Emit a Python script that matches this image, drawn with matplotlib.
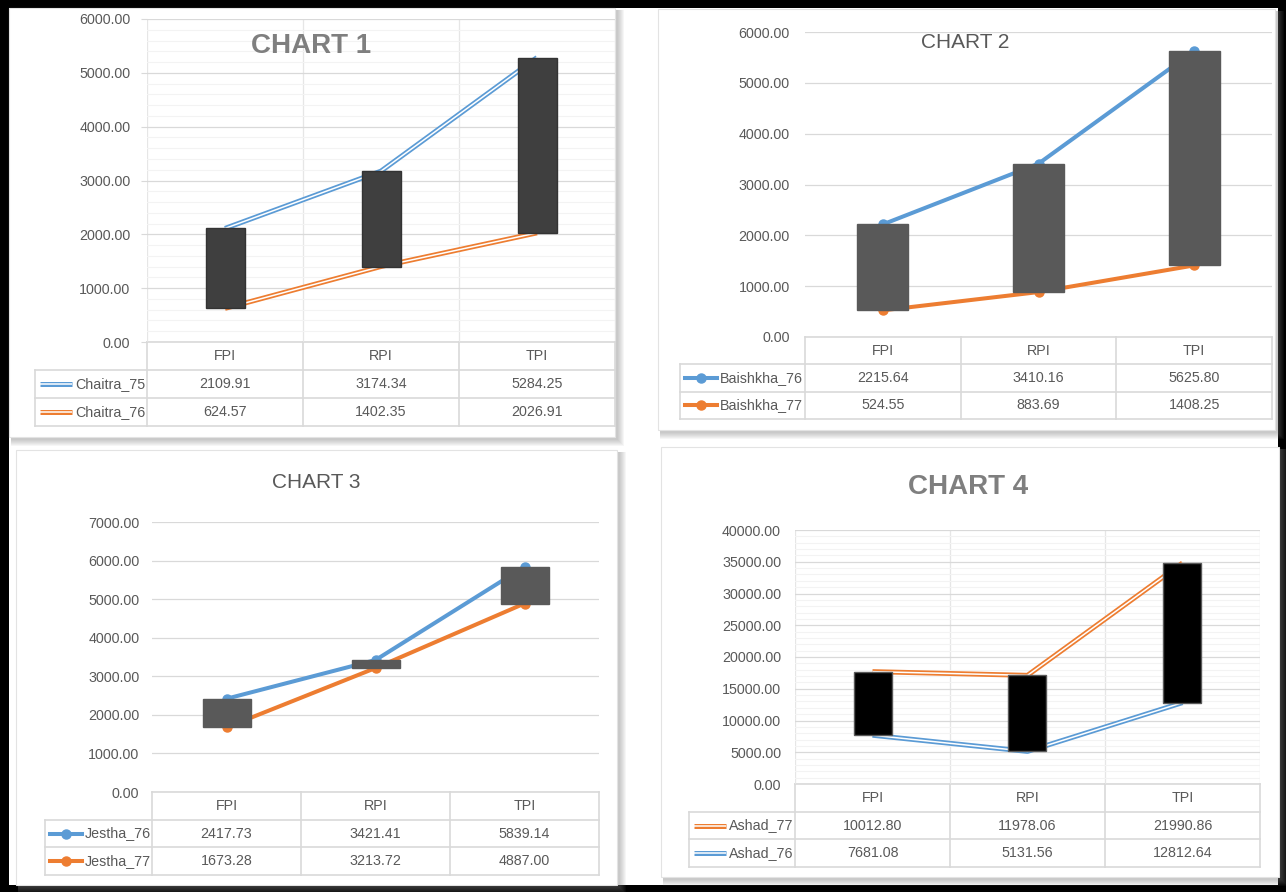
import matplotlib.pyplot as plt
from matplotlib.patches import Rectangle
from matplotlib.ticker import MultipleLocator, FormatStrFormatter

plt.rcParams['font.family'] = ['Liberation Sans', 'DejaVu Sans']

W, H = 1286, 892
BLUE = '#5B9BD5'
ORANGE = '#ED7D31'
TXT = '#595959'
GRID = '#D9D9D9'
FS = 10.3

categories = ['FPI', 'RPI', 'TPI']

chaitra_75 = [2109.91, 3174.34, 5284.25]
chaitra_76 = [624.57, 1402.35, 2026.91]
baishkha_76 = [2215.64, 3410.16, 5625.80]
baishkha_77 = [524.55, 883.69, 1408.25]
jestha_76 = [2417.73, 3421.41, 5839.14]
jestha_77 = [1673.28, 3213.72, 4887.00]
ashad_77 = [10012.80, 11978.06, 21990.86]
ashad_76 = [7681.08, 5131.56, 12812.64]

fig = plt.figure(figsize=(W / 100, H / 100), dpi=100, facecolor='black')
bg = fig.add_axes([0, 0, 1, 1])
bg.set_xlim(0, W)
bg.set_ylim(H, 0)
bg.axis('off')
bg.add_patch(Rectangle((9, 8), 1269, 877, facecolor='white', edgecolor='none'))


def panel(x0, y0, x1, y1):
    # soft drop shadow on the right and bottom
    for i in range(7, 0, -1):
        bg.add_patch(Rectangle((x0 + 2, y0 + 2), x1 - x0 + i, y1 - y0 + i,
                               facecolor='#808080', alpha=0.07, edgecolor='none'))
    bg.add_patch(Rectangle((x0, y0), x1 - x0, y1 - y0, facecolor='white',
                           edgecolor='#E3E3E3', lw=0.8))


def draw_line(ax, x, y, color, style, z=3):
    if style == 'double':
        ax.plot(x, y, color=color, lw=3.6, solid_capstyle='butt', zorder=z)
        ax.plot(x, y, color='white', lw=1.1, solid_capstyle='butt', zorder=z + 0.1)
    else:
        ax.plot(x, y, color=color, lw=2.9, marker='o', ms=6.5, zorder=z)


def chart(box, ymax, step, minor, title, title_xy, bold, low, high, names,
          colors, style, bar_fc, bar_ec, bar_px, vgrid, tick_len, pad,
          table_left, rows, plot_low=None, plot_high=None):
    left, top, right, bottom = box
    ax = fig.add_axes([left / W, 1 - bottom / H, (right - left) / W, (bottom - top) / H])
    ax.set_facecolor('none')
    ax.set_xlim(-0.5, 2.5)
    ax.set_ylim(0, ymax)
    ax.yaxis.set_major_locator(MultipleLocator(step))
    ax.yaxis.set_major_formatter(FormatStrFormatter('%.2f'))
    ax.tick_params(axis='y', colors=GRID, labelcolor=TXT, labelsize=FS,
                   length=tick_len, width=0.8, pad=pad)
    ax.set_xticks([])
    for s in ax.spines.values():
        s.set_visible(False)
    ax.grid(axis='y', which='major', color=GRID, lw=0.9, zorder=0)
    if minor:
        ax.yaxis.set_minor_locator(MultipleLocator(minor))
        ax.tick_params(axis='y', which='minor', length=0)
        ax.grid(axis='y', which='minor', color='#F3F3F3', lw=0.8, zorder=0)
    if vgrid:
        for xv in [-0.5, 0.5, 1.5, 2.5]:
            ax.axvline(xv, color='#E6E6E6', lw=0.9, zorder=0.5)

    pl = plot_low if plot_low is not None else low
    ph = plot_high if plot_high is not None else high
    xs = range(len(categories))
    draw_line(ax, xs, pl, colors[0] if plot_low is None else colors[1], style)
    draw_line(ax, xs, ph, colors[1] if plot_low is None else colors[0], style)

    # up/down bars spanning the two series
    bw = bar_px / ((right - left) / 3)
    lo = [min(a, b) for a, b in zip(pl, ph)]
    hi = [max(a, b) for a, b in zip(pl, ph)]
    ax.bar(xs, [h - l for l, h in zip(lo, hi)], bottom=lo, width=bw,
           color=bar_fc, edgecolor=bar_ec, lw=1.0, zorder=5)

    fig.text(title_xy[0] / W, 1 - title_xy[1] / H, title, ha='center', va='center',
             fontsize=20 if bold else 15, fontweight='bold' if bold else 'normal',
             color='#7F7F7F' if bold else TXT, zorder=10)

    # data table under the plot area
    rh = (rows - bottom) / 3.0
    cw = (right - left) / 3.0
    ys = [bottom + i * rh for i in range(4)]
    bg.plot([left, right], [ys[0], ys[0]], color=GRID, lw=1.2, zorder=2)
    for yv in ys[1:]:
        bg.plot([table_left, right], [yv, yv], color=GRID, lw=1.2, zorder=2)
    for k in range(4):
        xv = left + k * cw
        bg.plot([xv, xv], [ys[0], ys[3]], color=GRID, lw=1.2, zorder=2)
    bg.plot([table_left, table_left], [ys[1], ys[3]], color=GRID, lw=1.2, zorder=2)
    for k, c in enumerate(categories):
        bg.text(left + (k + 0.5) * cw, (ys[0] + ys[1]) / 2, c, ha='center',
                va='center', fontsize=FS, color=TXT)
    for r, (vals, name, col) in enumerate(zip([low, high], names, colors)):
        yc = (ys[r + 1] + ys[r + 2]) / 2
        for k, v in enumerate(vals):
            bg.text(left + (k + 0.5) * cw, yc, f'{v:.2f}', ha='center',
                    va='center', fontsize=FS, color=TXT)
        kx0 = table_left + 5
        kx1 = kx0 + 32
        if style == 'double':
            bg.plot([kx0, kx1], [yc, yc], color=col, lw=3.6, solid_capstyle='butt', zorder=3)
            bg.plot([kx0, kx1], [yc, yc], color='white', lw=1.1, solid_capstyle='butt', zorder=3.1)
        else:
            bg.plot([kx0, kx1], [yc, yc], color=col, lw=2.9, zorder=3)
            bg.plot([(kx0 + kx1) / 2], [yc], 'o', color=col, ms=6.5, zorder=3)
        bg.text(kx1 + 3, yc, name, ha='left', va='center', fontsize=FS, color=TXT)
    return ax


panel(9, 8, 615, 437)
panel(658, 9, 1275, 430)
panel(16, 450, 617, 885)
panel(661, 447, 1279, 877)

chart((147, 19, 615, 342), 6000, 1000, 200, 'CHART 1', (311, 46), True,
      chaitra_75, chaitra_76, ['Chaitra_75', 'Chaitra_76'], [BLUE, ORANGE],
      'double', '#3F3F3F', '#333333', 39, True, 4, 8, 35, 426)

chart((805, 32, 1272, 337), 6000, 1000, None, 'CHART 2', (965, 43), False,
      baishkha_76, baishkha_77, ['Baishkha_76', 'Baishkha_77'], [BLUE, ORANGE],
      'marker', '#595959', '#595959', 51, False, 0, 11, 680, 419)

chart((152, 522, 599, 792), 7000, 1000, None, 'CHART 3', (316, 482), False,
      jestha_76, jestha_77, ['Jestha_76', 'Jestha_77'], [BLUE, ORANGE],
      'marker', '#595959', '#595959', 48, False, 0, 9, 45, 875)

# stacked line chart: Ashad_77 sits on top of Ashad_76
ashad_total = [a + b for a, b in zip(ashad_76, ashad_77)]
chart((795, 530, 1260, 784), 40000, 5000, 1000, 'CHART 4', (968, 487), True,
      ashad_77, ashad_76, ['Ashad_77', 'Ashad_76'], [ORANGE, BLUE],
      'double', '#000000', '#595959', 38, True, 0, 10, 689, 867,
      plot_low=ashad_76, plot_high=ashad_total)

fig.savefig('out.png', dpi=100, facecolor='black')
